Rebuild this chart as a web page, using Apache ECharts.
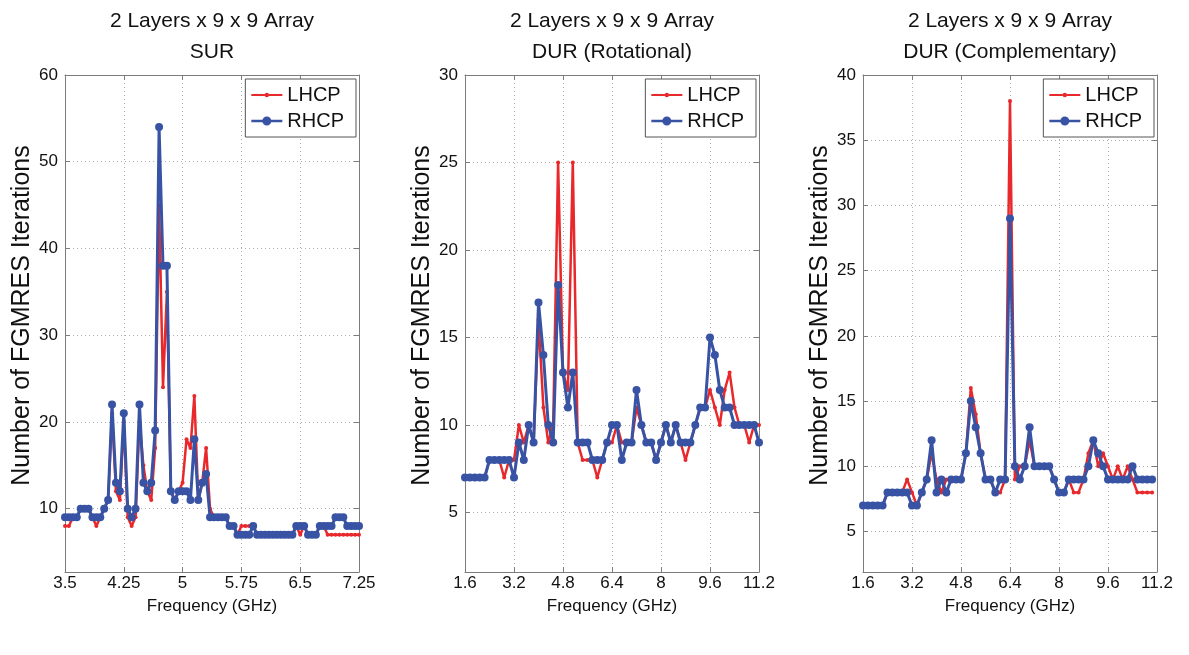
<!DOCTYPE html>
<html>
<head>
<meta charset="utf-8">
<script src="https://cdn.jsdelivr.net/npm/echarts@6/dist/echarts.min.js"></script>
<style>
  html, body { margin: 0; padding: 0; background: #fff; }
  #chart { width: 1189px; height: 655px; }
</style>
</head>
<body>
<div id="chart"></div>
<script>
// ---- Data: FGMRES iteration counts per frequency point ----

// Single-unit-cell reference (SUR)
const surFreq = [3.5,3.55,3.6,3.65,3.7,3.75,3.8,3.85,3.9,3.95,4,4.05,4.1,4.15,4.2,4.25,4.3,4.35,4.4,4.45,
  4.5,4.55,4.6,4.65,4.7,4.75,4.8,4.85,4.9,4.95,5,5.05,5.1,5.15,5.2,5.25,5.3,5.35,5.4,5.45,
  5.5,5.55,5.6,5.65,5.7,5.75,5.8,5.85,5.9,5.95,6,6.05,6.1,6.15,6.2,6.25,6.3,6.35,6.4,6.45,
  6.5,6.55,6.6,6.65,6.7,6.75,6.8,6.85,6.9,6.95,7,7.05,7.1,7.15,7.2,7.25];
const surLhcp = [8,8,9,9,10,10,10,9,8,9, 10,11,21,12,11,20,9,8,9,20, 15,12,11,17,45,24,35,12,11,12,
  13,18,17,23,11,13,17,10,9,9, 9,9,8,8,7,8,8,8,8,7, 7,7,7,7,7,7,7,7,7,8, 7,8,7,7,7,8,8,7,7,7, 7,7,7,7,7,7];
const surRhcp = [9,9,9,9,10,10,10,9,9,9, 10,11,22,13,12,21,10,9,10,22, 13,12,13,19,54,38,38,12,11,12,
  12,12,11,18,11,13,14,9,9,9, 9,9,8,8,7,7,7,7,8,7, 7,7,7,7,7,7,7,7,7,8, 8,8,7,7,7,8,8,8,8,9, 9,9,8,8,8,8];

// Dual-unit-cell reference, rotational
const rotFreq = [1.6,1.76,1.92,2.08,2.24,2.4,2.56,2.72,2.88,3.04,3.2,3.36,3.52,3.68,3.84,4,4.16,4.32,4.48,4.64,
  4.8,4.96,5.12,5.28,5.44,5.6,5.76,5.92,6.08,6.24,6.4,6.56,6.72,6.88,7.04,7.2,7.36,7.52,7.68,7.84,
  8,8.16,8.32,8.48,8.64,8.8,8.96,9.12,9.28,9.44,9.6,9.76,9.92,10.08,10.24,10.4,10.56,10.72,10.88,11.04,11.2];
const rotLhcp = [7,7,7,7,7,8,8,8,7,8, 8,10,9,10,9,16,11,9,10,25, 13,12,25,9,8,8,8,7,8,9,
  9,10,9,9,9,11,10,9,9,8, 9,10,9,10,9,8,9,10,11,11, 12,11,10,12,13,11,10,10,9,10, 10];
const rotRhcp = [7,7,7,7,7,8,8,8,8,8, 7,9,8,10,9,17,14,10,9,18, 13,11,13,9,9,9,8,8,8,9,
  10,10,8,9,9,12,10,9,9,8, 9,10,9,10,9,9,9,10,11,11, 15,14,12,11,11,10,10,10,10,10, 9];

// Dual-unit-cell reference, complementary
const compFreq = [1.6,1.76,1.92,2.08,2.24,2.4,2.56,2.72,2.88,3.04,3.2,3.36,3.52,3.68,3.84,4,4.16,4.32,4.48,4.64,
  4.8,4.96,5.12,5.28,5.44,5.6,5.76,5.92,6.08,6.24,6.4,6.56,6.72,6.88,7.04,7.2,7.36,7.52,7.68,7.84,
  8,8.16,8.32,8.48,8.64,8.8,8.96,9.12,9.28,9.44,9.6,9.76,9.92,10.08,10.24,10.4,10.56,10.72,10.88,11.04];
const compLhcp = [7,7,7,7,7,8,8,8,8,9, 8,7,8,9,11,9,8,9,9,9, 9,11,16,14,11,9,9,8,8,9,
  38,9,10,10,12,10,10,10,10,9, 8,8,9,8,8,9,11,12,10,11, 10,9,10,9,10,9,8,8,8,8];
const compRhcp = [7,7,7,7,7,8,8,8,8,8, 7,7,8,9,12,8,9,8,9,9, 9,11,15,13,11,9,9,8,9,9,
  29,10,9,10,13,10,10,10,10,9, 8,8,9,9,9,9,10,12,11,10, 9,9,9,9,9,10,9,9,9,9];

// Axis ticks
const surTicks = [3.5, 4.25, 5, 5.75, 6.5, 7.25];
const durTicks = [1.6, 3.2, 4.8, 6.4, 8, 9.6, 11.2];
const surYTicks = [10, 20, 30, 40, 50, 60];
const rotYTicks = [5, 10, 15, 20, 25, 30];
const compYTicks = [5, 10, 15, 20, 25, 30, 35, 40];

const titleLine = '2 Layers x 9 x 9 Array';
const panels = [
  { sub: 'SUR', freq: surFreq, lhcp: surLhcp, rhcp: surRhcp, xTicks: surTicks, yTicks: surYTicks, yMin: 2.7 },
  { sub: 'DUR (Rotational)', freq: rotFreq, lhcp: rotLhcp, rhcp: rotRhcp, xTicks: durTicks, yTicks: rotYTicks, yMin: 1.6 },
  { sub: 'DUR (Complementary)', freq: compFreq, lhcp: compLhcp, rhcp: compRhcp, xTicks: durTicks, yTicks: compYTicks, yMin: 1.9 }
];

// ---- Layout & style ----
const FONT = '"Liberation Sans", Arial, Helvetica, sans-serif';
const RED = '#e8282b';
const BLUE = '#3853a4';
const gridLefts = [65, 465, 863];
const GRID_W = 294, GRID_TOP = 75, GRID_H = 497;
const CHART_W = 1189;

// legend keys: a line segment with the series marker in its middle
const ICON_LHCP = 'path://M0,0M31,10M0,4.1L13.4,4.1L13.4,5.9L0,5.9ZM17.6,4.1L31,4.1L31,5.9L17.6,5.9Z' +
  'M13.3,5A2.2,2.2,0,1,1,17.7,5A2.2,2.2,0,1,1,13.3,5Z';
const ICON_RHCP = 'path://M0,0M31,10M0,3.8L11.2,3.8L11.2,6.2L0,6.2ZM19.8,3.8L31,3.8L31,6.2L19.8,6.2Z' +
  'M11,5A4.5,4.5,0,1,1,20,5A4.5,4.5,0,1,1,11,5Z';

const option = {
  animation: false,
  backgroundColor: '#fff',
  textStyle: { fontFamily: FONT },
  title: [], grid: [], xAxis: [], yAxis: [], legend: [], series: []
};

const axisLineStyle = { color: '#7c7c7c', width: 1 };
const gridLine = { show: true, lineStyle: { type: [1, 3], color: '#b0b0b0', width: 1 } };

panels.forEach((p, i) => {
  const left = gridLefts[i];
  const cx = left + GRID_W / 2;
  const xMin = p.xTicks[0], xMax = p.xTicks[p.xTicks.length - 1];
  const yMax = p.yTicks[p.yTicks.length - 1];

  option.title.push({
    text: titleLine + '\n' + p.sub,
    left: cx, top: 6, textAlign: 'center', padding: 0,
    textStyle: { fontFamily: FONT, fontSize: 21, fontWeight: 'normal', color: '#111', lineHeight: 31 }
  });

  option.grid.push({ left: left, top: GRID_TOP, width: GRID_W, height: GRID_H, show: false });

  // bottom axis with labels, top axis as plain tick frame
  option.xAxis.push({
    type: 'value', gridIndex: i, min: xMin, max: xMax, position: 'bottom',
    name: 'Frequency (GHz)', nameLocation: 'middle', nameGap: 26,
    nameTextStyle: { fontFamily: FONT, fontSize: 17, color: '#111' },
    axisLine: { show: true, lineStyle: axisLineStyle },
    axisTick: { show: true, inside: true, length: 5, customValues: p.xTicks, lineStyle: axisLineStyle },
    axisLabel: { show: true, customValues: p.xTicks, fontSize: 17, color: '#111', margin: 3, fontFamily: FONT },
    splitLine: gridLine
  });
  option.xAxis.push({
    type: 'value', gridIndex: i, min: xMin, max: xMax, position: 'top',
    axisLine: { show: true, lineStyle: axisLineStyle },
    axisTick: { show: true, inside: true, length: 5, customValues: p.xTicks, lineStyle: axisLineStyle },
    axisLabel: { show: false }, splitLine: { show: false }
  });

  // left axis with labels, right axis as plain tick frame
  option.yAxis.push({
    type: 'value', gridIndex: i, min: p.yMin, max: yMax, position: 'left',
    name: 'Number of FGMRES Iterations', nameLocation: 'middle', nameGap: 30, nameRotate: 90,
    nameTextStyle: { fontFamily: FONT, fontSize: 25, color: '#111', padding: [0, 0, 0, 16] },
    axisLine: { show: true, lineStyle: axisLineStyle },
    axisTick: { show: true, inside: true, length: 5, customValues: p.yTicks, lineStyle: axisLineStyle },
    axisLabel: { customValues: p.yTicks, fontSize: 17, color: '#111', margin: 7, fontFamily: FONT },
    splitLine: gridLine
  });
  option.yAxis.push({
    type: 'value', gridIndex: i, min: p.yMin, max: yMax, position: 'right',
    axisLine: { show: true, lineStyle: axisLineStyle },
    axisTick: { show: true, inside: true, length: 5, customValues: p.yTicks, lineStyle: axisLineStyle },
    axisLabel: { show: false }, splitLine: { show: false }
  });

  option.legend.push({
    data: [{ name: 'LHCP', icon: ICON_LHCP }, { name: 'RHCP', icon: ICON_RHCP }],
    orient: 'vertical',
    right: CHART_W - (left + GRID_W) + 3, top: GRID_TOP + 4,
    backgroundColor: '#fff', borderColor: '#555', borderWidth: 1, borderRadius: 0,
    padding: [6, 12, 6, 6], itemGap: 6, itemWidth: 31, itemHeight: 10,
    textStyle: { fontFamily: FONT, fontSize: 20, color: '#111' },
    selectedMode: false
  });

  option.series.push({
    name: 'LHCP', type: 'line', xAxisIndex: 2 * i, yAxisIndex: 2 * i,
    data: p.freq.map((f, k) => [f, p.lhcp[k]]),
    symbol: 'circle', symbolSize: 4, showSymbol: true,
    color: RED, lineStyle: { color: RED, width: 2.5 }, itemStyle: { color: RED },
    z: 2
  });
  option.series.push({
    name: 'RHCP', type: 'line', xAxisIndex: 2 * i, yAxisIndex: 2 * i,
    data: p.freq.map((f, k) => [f, p.rhcp[k]]),
    symbol: 'circle', symbolSize: 8, showSymbol: true,
    color: BLUE, lineStyle: { color: BLUE, width: 3 }, itemStyle: { color: BLUE },
    z: 3
  });
});

const chart = echarts.init(document.getElementById('chart'), null, { renderer: 'canvas' });
chart.setOption(option);
</script>
</body>
</html>
